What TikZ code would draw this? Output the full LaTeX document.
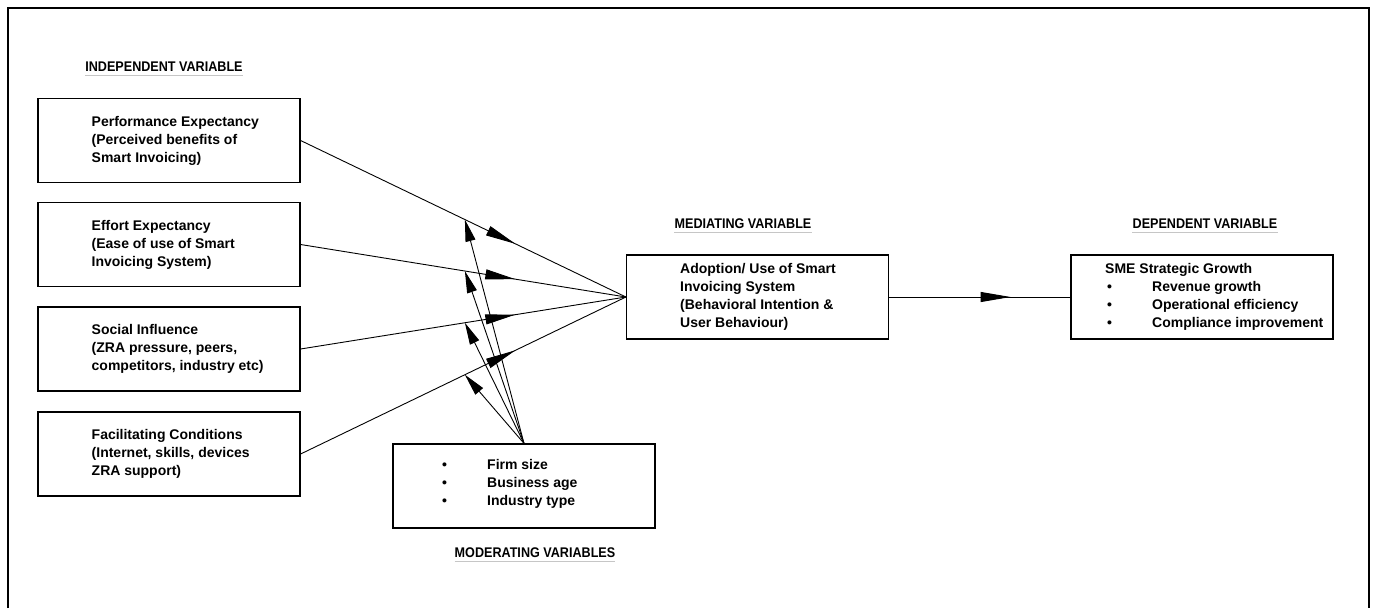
\documentclass[tikz,border=0pt]{standalone}
\usepackage{fontspec}
\setmainfont{Liberation Sans}
\newfontfamily\headfont{Liberation Sans}[FakeStretch=0.9]
\usetikzlibrary{arrows.meta,decorations.markings,calc}
\begin{document}
\begin{tikzpicture}[x=1pt,y=-1pt,
  box/.style={draw, line width=1.2pt, minimum width=262pt, minimum height=84pt, inner sep=0pt},
  txt/.style={anchor=west, align=left, inner sep=0pt, font=\fontsize{14}{18}\selectfont\bfseries},
  head/.style={inner sep=0pt, font=\headfont\fontsize{14}{18}\selectfont\bfseries},
  uline/.style={gray!45, line width=1.3pt},
  conn/.style={line width=0.9pt},
  midarrow/.style={postaction={decorate}, decoration={markings, mark=at position #1 with {\arrow{Triangle[length=30pt,width=10pt]}}}},
  tipped/.style={-{Triangle[length=22pt,width=10pt]}}
]
\useasboundingbox (0,0) rectangle (1373,608);
% frame
\draw[line width=1.5pt] (8,608) -- (8,8) -- (1369,8) -- (1369,608);

% headings
\node[head] (hind) at (164,67) {INDEPENDENT VARIABLE};
\node[head] (hmed) at (743,224) {MEDIATING VARIABLE};
\node[head] (hdep) at (1205,224) {DEPENDENT VARIABLE};
\node[head] (hmod) at (535,553) {MODERATING VARIABLES};
\foreach \h in {hind,hmed,hdep,hmod}
  \draw[uline] ([yshift=-3.5pt]\h.base west) -- ([yshift=-3.5pt]\h.base east);

% independent boxes
\node[box] (pe) at (169,140.5) {};
\node[box] (ee) at (169,244.5) {};
\node[box] (si) at (169,349) {};
\node[box] (fc) at (169,454) {};
\node[txt] (tpe) at (91.5,140.5) {Performance Expectancy\\(Perceived benefits of\\Smart Invoicing)};
\node[txt] (tee) at (91.5,244.5) {Effort Expectancy\\(Ease of use of Smart\\Invoicing System)};
\node[txt] (tsi) at (91.5,349) {Social Influence\\(ZRA pressure, peers,\\competitors, industry etc)};
\node[txt] (tfc) at (91.5,454) {Facilitating Conditions\\(Internet, skills, devices\\ZRA support)};

% mediator
\node[box] (med) at (757.5,297) {};
\node[txt] (tmed) at (680,297) {Adoption/ Use of Smart\\Invoicing System\\(Behavioral Intention \&\\User Behaviour)};

% dependent
\node[box] (dep) at (1202,297) {};
\node[txt] (tdep) at (1105,297) {SME Strategic Growth\\\makebox[47pt][l]{\hspace{2pt}•}Revenue growth\\\makebox[47pt][l]{\hspace{2pt}•}Operational efficiency\\\makebox[47pt][l]{\hspace{2pt}•}Compliance improvement};

% moderator
\node[box] (mod) at (524,486) {};
\node[txt] (tmod) at (442,484) {\makebox[45pt][l]{•}Firm size\\\makebox[45pt][l]{•}Business age\\\makebox[45pt][l]{•}Industry type};

% independent -> mediator
\foreach \s in {pe,ee,si,fc}
  \draw[conn, midarrow=0.66] (\s.east) -- (med.west);

% mediator -> dependent
\draw[conn, midarrow=0.67] (med.east) -- (dep.west);

% moderator arrows
\foreach \s in {pe,ee,si,fc}{
  \coordinate (m\s) at ($(\s.east)!0.505!(med.west)$);
  \draw[conn, tipped] (mod.north) -- (m\s);
}
\end{tikzpicture}
\end{document}
